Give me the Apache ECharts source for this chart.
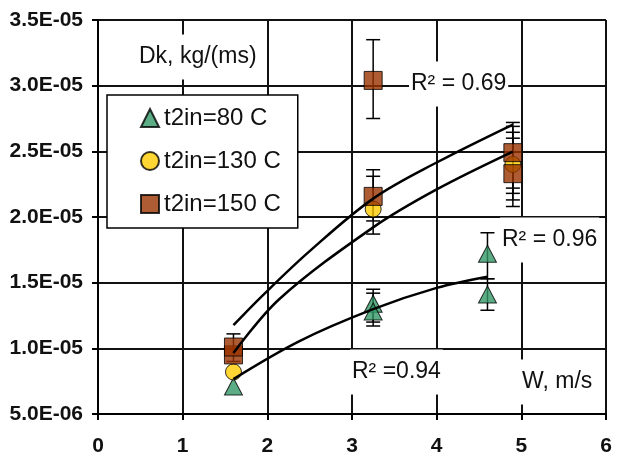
<!DOCTYPE html>
<html><head><meta charset="utf-8">
<script src="https://cdn.jsdelivr.net/npm/echarts@6/dist/echarts.min.js"></script>
<style>html,body{margin:0;padding:0;background:#fff}#c{width:617px;height:457px}</style>
</head><body><div id="c"></div>
<script>
// ---- data ----
const seriesNames = ['t2in=80 C', 't2in=130 C', 't2in=150 C'];
const xMin = 0, xMax = 6, xStep = 1;
const yMin = 5e-6, yMax = 3.5e-5, yStep = 5e-6;

const w80 = [1.6, 3.25, 3.25, 4.6, 4.6];
const dk80 = [7.1e-6, 1.34e-5, 1.28e-5, 1.72e-5, 1.41e-5];
const w130 = [1.6, 3.25, 4.9];
const dk130 = [8.2e-6, 2.06e-5, 2.40e-5];
const w150 = [1.6, 1.6, 3.25, 3.25, 4.9, 4.9];
const dk150 = [9.5e-6, 1.01e-5, 3.04e-5, 2.157e-5, 2.33e-5, 2.49e-5];

// error bars: [W, low, high]
const err80 = [[3.25, 1.20e-5, 1.45e-5], [3.25, 1.17e-5, 1.42e-5], [4.6, 1.53e-5, 1.88e-5], [4.6, 1.29e-5, 1.53e-5]];
const err130 = [[3.25, 1.87e-5, 2.31e-5], [4.9, 2.13e-5, 2.645e-5]];
const err150 = [[1.6, 9.0e-6, 1.11e-5], [3.25, 2.75e-5, 3.35e-5], [3.25, 1.97e-5, 2.36e-5], [4.9, 2.22e-5, 2.72e-5], [4.9, 2.08e-5, 2.69e-5], [4.9, 2.18e-5, 2.6e-5]];

// trend lines
const trendW80 = [1.6, 2.38, 3.25, 4.0, 4.6];
const trendDk80 = [7.66e-6, 10.55e-6, 12.98e-6, 14.6e-6, 15.45e-6];
const trendW130 = [1.6, 2.14, 3.25, 4.0, 4.9];
const trendDk130 = [9.64e-6, 13.74e-6, 19.21e-6, 22.1e-6, 24.98e-6];
const trendW150 = [1.6, 1.94, 2.5, 3.25, 4.0, 4.9];
const trendDk150 = [11.76e-6, 14.0e-6, 17.4e-6, 21.4e-6, 24.15e-6, 27.04e-6];

const annotations = [
  {text: 'Dk, kg/(ms)', x: 137, y: 57},
  {text: 'R\u00b2 = 0.69', x: 409, y: 84},
  {text: 'R\u00b2 = 0.96', x: 500, y: 240},
  {text: 'R\u00b2 =0.94', x: 350, y: 372},
  {text: 'W, m/s', x: 520, y: 382}
];
// --------------------------------------

const FONT = 'Liberation Sans, Arial, sans-serif';
const zip = (a, b) => a.map((v, i) => [v, b[i]]);
function fmtY(v) {
  const s = Number(v).toExponential(1).toUpperCase();
  return s.replace(/E([+-])(\d)$/, 'E$10$2');
}
function errSeries(data) {
  return {
    type: 'custom', data: data, z: 2, silent: true,
    encode: {x: 0, y: [1, 2]},
    renderItem: function (params, api) {
      const x = api.value(0);
      const lo = api.coord([x, api.value(1)]);
      const hi = api.coord([x, api.value(2)]);
      const hw = 7;
      const st = {stroke: '#000', lineWidth: 1.5};
      return {type: 'group', children: [
        {type: 'line', shape: {x1: lo[0], y1: lo[1], x2: hi[0], y2: hi[1]}, style: st},
        {type: 'line', shape: {x1: lo[0] - hw, y1: lo[1], x2: lo[0] + hw, y2: lo[1]}, style: st},
        {type: 'line', shape: {x1: hi[0] - hw, y1: hi[1], x2: hi[0] + hw, y2: hi[1]}, style: st}
      ]};
    }
  };
}
function trend(w, d) {
  return {type: 'line', data: zip(w, d), showSymbol: false, smooth: 0.35, silent: true, z: 5,
    lineStyle: {color: '#000', width: 2.5}};
}

const chart = echarts.init(document.getElementById('c'), null, {renderer: 'canvas'});
chart.setOption({
  animation: false,
  backgroundColor: '#fff',
  grid: {left: 98, right: 11, top: 20, bottom: 42, containLabel: false},
  xAxis: {
    type: 'value', min: xMin, max: xMax, interval: xStep,
    axisLine: {show: true, onZero: false, lineStyle: {color: '#000', width: 2}},
    axisTick: {show: true, length: 6, lineStyle: {color: '#000', width: 2}},
    axisLabel: {fontFamily: FONT, fontSize: 21, fontWeight: 'bold', color: '#111', margin: 22},
    splitLine: {show: true, lineStyle: {color: '#111', width: 2}}
  },
  yAxis: {
    type: 'value', min: yMin, max: yMax, interval: yStep,
    axisLine: {show: true, onZero: false, lineStyle: {color: '#000', width: 2}},
    axisTick: {show: true, length: 6, lineStyle: {color: '#000', width: 2}},
    axisLabel: {fontFamily: FONT, fontSize: 21, fontWeight: 'bold', color: '#111', margin: 15, formatter: fmtY},
    splitLine: {show: true, lineStyle: {color: '#111', width: 2}}
  },
  legend: {
    data: seriesNames, orient: 'vertical', left: 107, top: 95,
    backgroundColor: '#fff', borderColor: '#000', borderWidth: 1.5,
    padding: [11, 17, 12, 33], itemGap: 19, itemWidth: 18, itemHeight: 18,
    textStyle: {fontFamily: FONT, fontSize: 24, color: '#111'},
    selectedMode: false
  },
  graphic: annotations.map(a => ({
    type: 'text', x: a.x, y: a.y, z: 50, silent: true,
    style: {text: a.text, font: '23px ' + FONT, fill: '#111', align: 'left', verticalAlign: 'middle',
      backgroundColor: '#fff', padding: [11, 2]}
  })),
  series: [
    errSeries(err80), errSeries(err130), errSeries(err150),
    {name: seriesNames[0], type: 'scatter', data: zip(w80, dk80), symbol: 'triangle', symbolSize: [18, 17], z: 3,
      itemStyle: {color: '#339966', borderColor: '#000', borderWidth: 1}},
    {name: seriesNames[1], type: 'scatter', data: zip(w130, dk130), symbol: 'circle', symbolSize: 16, z: 3,
      itemStyle: {color: '#FFCC00', borderColor: '#000', borderWidth: 1}},
    {name: seriesNames[2], type: 'scatter', data: zip(w150, dk150), symbol: 'rect', symbolSize: 18, z: 3,
      itemStyle: {color: '#993300', borderColor: '#000', borderWidth: 1}},
    trend(trendW80, trendDk80), trend(trendW130, trendDk130), trend(trendW150, trendDk150)
  ]
});
</script></body></html>
